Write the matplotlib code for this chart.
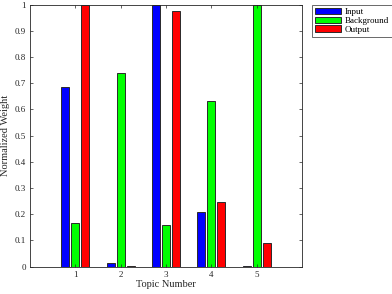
import matplotlib
matplotlib.use("Agg")
import matplotlib.pyplot as plt
import numpy as np

plt.rcParams['font.family'] = ['Liberation Serif', 'DejaVu Serif']

topics = [1, 2, 3, 4, 5]
series_names = ["Input", "Background", "Output"]
input_w = [0.684, 0.015, 1.0, 0.209, 0.003]
background_w = [0.168, 0.739, 0.158, 0.632, 1.0]
output_w = [1.0, 0.004, 0.976, 0.247, 0.089]
colors = ["#0000ff", "#00ff00", "#ff0000"]

fig = plt.figure(figsize=(3.92, 2.94), dpi=100)
ax = fig.add_axes([0.0765, 0.093, 0.694, 0.891])

x = np.array(topics, dtype=float)
offsets = [-0.222, 0.0, 0.222]
bw = 0.178
handles = []
for vals, off, c, name in zip([input_w, background_w, output_w], offsets, colors, series_names):
    h = ax.bar(x + off, vals, width=bw, color=c, edgecolor="#2a2a2a", linewidth=0.7, label=name)
    handles.append(h)

ax.set_xlim(0, 6)
ax.set_ylim(0, 1)
ax.set_xticks(topics)
ax.set_yticks(np.arange(0, 1.01, 0.1))
ax.set_yticklabels(["0", "0.1", "0.2", "0.3", "0.4", "0.5", "0.6", "0.7", "0.8", "0.9", "1"])
ax.tick_params(direction="in", top=True, right=True, labelsize=6.5, length=2.5, width=0.5, colors="#262626", pad=3)
for s in ax.spines.values():
    s.set_color("#262626")
    s.set_linewidth(0.6)
ax.set_xlabel("Topic Number", fontsize=7.5, labelpad=1, color="#262626")
ax.set_ylabel("Normalized Weight", fontsize=7.5, labelpad=3, color="#262626")

leg = fig.legend(handles=handles, labels=series_names, loc="upper left",
                 bbox_to_anchor=(311.5/392, 1 - 4.5/294), fontsize=6.5,
                 handlelength=2.9, handleheight=0.75, handletextpad=0.4,
                 labelspacing=0.05, borderpad=0.35, borderaxespad=0,
                 fancybox=False, frameon=True)
leg.get_frame().set_edgecolor("#262626")
leg.get_frame().set_linewidth(0.6)

fig.savefig("out.png", dpi=100)
